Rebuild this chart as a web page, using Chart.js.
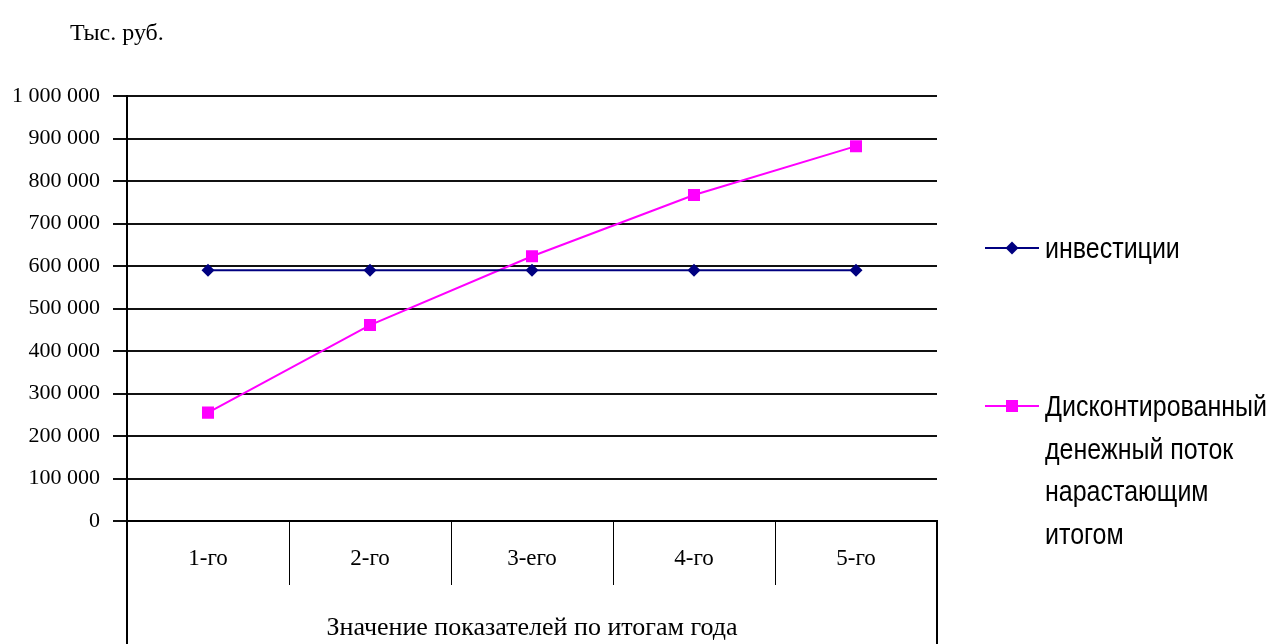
<!DOCTYPE html>
<html lang="ru">
<head>
<meta charset="utf-8">
<title>Инвестиции и дисконтированный денежный поток</title>
<script src="https://cdn.jsdelivr.net/npm/chart.js@4.4.1/dist/chart.umd.min.js"></script>
<style>
  html, body { margin: 0; padding: 0; background: #fff; }
  #wrap { position: relative; width: 1273px; height: 644px; overflow: hidden; }
  #chart { position: absolute; left: 0; top: 0; }
  .unit {
    position: absolute; left: 70px; top: 19px;
    font: 24px "Liberation Serif", "Times New Roman", serif; color: #000;
  }
  .legend { position: absolute; left: 985px; top: 0; font: 25px "Liberation Sans", Arial, sans-serif; color: #000; }
  .legend-item { position: absolute; left: 0; white-space: nowrap; }
  .legend-item svg { position: absolute; left: 0; top: 17px; }
  .legend-item span {
    position: absolute; left: 60px; top: 3px;
    line-height: 37px; display: block;
    transform: scaleY(1.15); transform-origin: top left;
  }
</style>
</head>
<body>
<div id="wrap">
  <canvas id="chart" width="1273" height="644"></canvas>
  <div class="unit">Тыс. руб.</div>
  <div class="legend" id="legend"></div>
</div>
<script>
// ---- data ----
const categories = ['1-го', '2-го', '3-его', '4-го', '5-го'];
const investments = [590000, 590000, 590000, 590000, 590000];
const discountedCashFlow = [255000, 461000, 623000, 767000, 882000];
const seriesNames = ['инвестиции', ['Дисконтированный', 'денежный поток', 'нарастающим', 'итогом']];
const axisTitle = 'Значение показателей по итогам года';

const SERIF = '"Liberation Serif", "Times New Roman", serif';

// thousands with a space: 1 000 000
function fmt(v) {
  return String(v).replace(/\B(?=(\d{3})+(?!\d))/g, ' ');
}

// Excel-style two-level category box under the plot
const categoryBox = {
  id: 'categoryBox',
  afterDraw(chart) {
    const { ctx, chartArea } = chart;
    const x = chart.scales.x;
    const bottom = chart.height;
    ctx.save();
    ctx.strokeStyle = '#000';
    ctx.lineWidth = 2;
    ctx.beginPath();
    ctx.moveTo(chartArea.left, chartArea.bottom);
    ctx.lineTo(chartArea.left, bottom);
    ctx.moveTo(chartArea.right, chartArea.bottom);
    ctx.lineTo(chartArea.right, bottom);
    ctx.stroke();
    ctx.lineWidth = 1;
    ctx.beginPath();
    for (let i = 0; i < categories.length - 1; i++) {
      const px = Math.round((x.getPixelForValue(i) + x.getPixelForValue(i + 1)) / 2) + 0.5;
      ctx.moveTo(px, chartArea.bottom);
      ctx.lineTo(px, chartArea.bottom + 64);
    }
    ctx.stroke();
    ctx.restore();
  }
};

const chart = new Chart(document.getElementById('chart'), {
  type: 'line',
  data: {
    labels: categories,
    datasets: [
      {
        label: 'инвестиции',
        data: investments,
        borderColor: '#000080',
        backgroundColor: '#000080',
        borderWidth: 2,
        pointStyle: 'rectRot',
        pointRadius: 6.5,
        pointBorderWidth: 0,
        tension: 0
      },
      {
        label: 'Дисконтированный денежный поток нарастающим итогом',
        data: discountedCashFlow,
        borderColor: '#FF00FF',
        backgroundColor: '#FF00FF',
        borderWidth: 2,
        pointStyle: 'rect',
        pointRadius: 8.5,
        pointBorderWidth: 0,
        tension: 0
      }
    ]
  },
  options: {
    responsive: false,
    animation: false,
    layout: { padding: { left: 0, right: 336, top: 96, bottom: 0 } },
    plugins: {
      legend: { display: false },
      tooltip: { enabled: false }
    },
    scales: {
      x: {
        offset: true,
        grid: { display: false, drawTicks: false },
        border: { display: true, color: '#000', width: 2 },
        ticks: {
          padding: 24,
          color: '#000',
          font: { family: SERIF, size: 23 }
        },
        title: {
          display: true,
          text: axisTitle,
          color: '#000',
          font: { family: SERIF, size: 26 },
          padding: { top: 0, bottom: 0 }
        },
        afterFit(scale) { scale.height = 123; }
      },
      y: {
        min: 0,
        max: 1000000,
        grid: { color: '#111', lineWidth: 2, tickLength: 14 },
        border: { display: true, color: '#000', width: 2 },
        ticks: {
          stepSize: 100000,
          padding: 13,
          color: '#000',
          font: { family: SERIF, size: 22 },
          callback: (v) => fmt(v)
        },
        afterFit(scale) { scale.width = 127; }
      }
    }
  },
  plugins: [categoryBox]
});

// HTML legend built from the datasets; lineY = where the swatch line sits
const legendLineY = [248, 406];
const legendEl = document.getElementById('legend');
chart.data.datasets.forEach((ds, i) => {
  const item = document.createElement('div');
  item.className = 'legend-item';
  item.style.top = (legendLineY[i] - 24) + 'px';
  const c = ds.borderColor;
  const marker = ds.pointStyle === 'rectRot'
    ? `<polygon points="27,0.5 33.5,7 27,13.5 20.5,7" fill="${c}"/>`
    : `<rect x="21" y="1" width="12" height="12" fill="${c}"/>`;
  const name = seriesNames[i];
  item.innerHTML =
    `<svg width="54" height="14" viewBox="0 0 54 14"><line x1="0" y1="7" x2="54" y2="7" stroke="${c}" stroke-width="2"/>${marker}</svg>` +
    `<span>${Array.isArray(name) ? name.join('<br>') : name}</span>`;
  legendEl.appendChild(item);
});
</script>
</body>
</html>
